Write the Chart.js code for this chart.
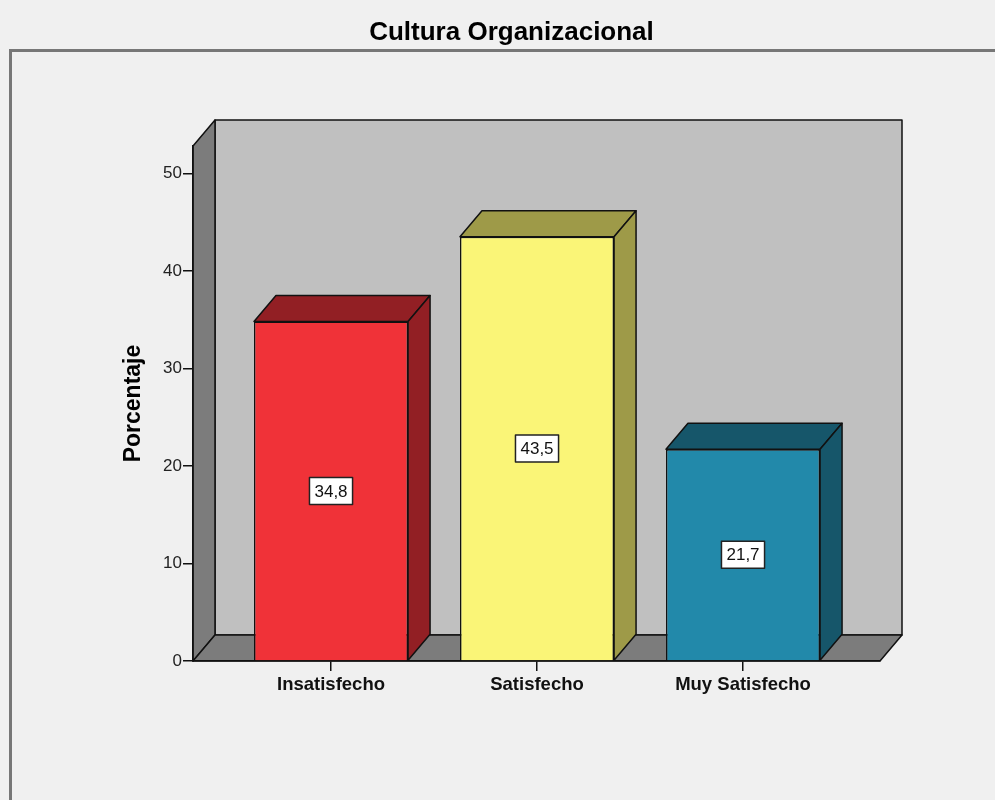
<!DOCTYPE html>
<html>
<head>
<meta charset="utf-8">
<title>Cultura Organizacional</title>
<script src="https://cdn.jsdelivr.net/npm/chart.js@4.4.1/dist/chart.umd.min.js"></script>
<style>
  html, body { margin: 0; padding: 0; background: #f0f0f0; }
  canvas { display: block; }
</style>
</head>
<body>
<canvas id="myChart" width="995" height="800"></canvas>
<script>
const categorias = ['Insatisfecho', 'Satisfecho', 'Muy Satisfecho'];
const porcentajes = [34.8, 43.5, 21.7];
const yTicks = [0, 10, 20, 30, 40, 50];

const frontColors = ['#f03238', '#faf577', '#2289aa'];
const sideColors = ['#921f24', '#9e9a48', '#16566a'];

const FONT = "'Liberation Sans', Arial, sans-serif";
// depth of the 3D boxes, in pixels
const DX = 22;
const DY = 26;

function poly(ctx, pts, fill) {
    ctx.beginPath();
    ctx.moveTo(pts[0][0], pts[0][1]);
    for (let i = 1; i < pts.length; i++) ctx.lineTo(pts[i][0], pts[i][1]);
    ctx.closePath();
    ctx.fillStyle = fill;
    ctx.fill();
    ctx.stroke();
}

// background, frame and the back/left/floor walls
const walls = {
    id: 'walls',
    beforeDraw(chart) {
        const ctx = chart.ctx;
        const a = chart.chartArea;
        ctx.save();
        ctx.fillStyle = '#f0f0f0';
        ctx.fillRect(0, 0, chart.width, chart.height);

        ctx.strokeStyle = '#777';
        ctx.lineWidth = 3;
        ctx.beginPath();
        ctx.moveTo(10.5, chart.height);
        ctx.lineTo(10.5, 50.5);
        ctx.lineTo(chart.width, 50.5);
        ctx.stroke();

        ctx.strokeStyle = '#111';
        ctx.lineWidth = 1.5;
        ctx.lineJoin = 'round';
        poly(ctx, [[a.left + DX, a.top - DY], [a.right + DX, a.top - DY],
                   [a.right + DX, a.bottom - DY], [a.left + DX, a.bottom - DY]], '#c0c0c0');
        poly(ctx, [[a.left, a.top], [a.left + DX, a.top - DY],
                   [a.left + DX, a.bottom - DY], [a.left, a.bottom]], '#7c7c7c');
        poly(ctx, [[a.left, a.bottom], [a.left + DX, a.bottom - DY],
                   [a.right + DX, a.bottom - DY], [a.right, a.bottom]], '#7c7c7c');
        ctx.restore();
    }
};

// top and side faces of each bar plus the value boxes
const barFaces = {
    id: 'barFaces',
    afterDatasetsDraw(chart) {
        const ctx = chart.ctx;
        const meta = chart.getDatasetMeta(0);
        ctx.save();
        ctx.strokeStyle = '#111';
        ctx.lineWidth = 1.5;
        ctx.lineJoin = 'round';
        meta.data.forEach((bar, i) => {
            const p = bar.getProps(['x', 'y', 'base', 'width'], true);
            const x0 = p.x - p.width / 2;
            const x1 = p.x + p.width / 2;
            poly(ctx, [[x0, p.y], [x0 + DX, p.y - DY], [x1 + DX, p.y - DY], [x1, p.y]], sideColors[i]);
            poly(ctx, [[x1, p.y], [x1 + DX, p.y - DY], [x1 + DX, p.base - DY], [x1, p.base]], sideColors[i]);
        });
        meta.data.forEach((bar, i) => {
            const p = bar.getProps(['x', 'y', 'base'], true);
            const txt = porcentajes[i].toFixed(1).replace('.', ',');
            const cy = (p.y + p.base) / 2;
            ctx.font = '17px ' + FONT;
            const w = ctx.measureText(txt).width + 10;
            const h = 27;
            ctx.fillStyle = '#fff';
            ctx.fillRect(p.x - w / 2, cy - h / 2, w, h);
            ctx.strokeStyle = '#222';
            ctx.strokeRect(p.x - w / 2, cy - h / 2, w, h);
            ctx.fillStyle = '#111';
            ctx.textAlign = 'center';
            ctx.textBaseline = 'middle';
            ctx.fillText(txt, p.x, cy + 1);
        });
        ctx.restore();
    }
};

new Chart('myChart', {
    type: 'bar',
    data: {
        datasets: [{
            data: porcentajes.map((v, i) => ({ x: i, y: v })),
            xAxisID: 'x',
            yAxisID: 'y',
            backgroundColor: frontColors,
            borderColor: '#111',
            borderWidth: 1.5,
            barPercentage: 0.748,
            categoryPercentage: 1
        }]
    },
    options: {
        responsive: false,
        animation: false,
        devicePixelRatio: 1,
        layout: { padding: { left: 28, top: 0, right: 0, bottom: 0 } },
        plugins: {
            legend: { display: false },
            tooltip: { enabled: false },
            title: {
                display: true,
                text: 'Cultura Organizacional',
                color: '#000',
                font: { family: FONT, size: 26, weight: 'bold' },
                padding: { top: 17, bottom: 97.8 }
            }
        },
        scales: {
            x: {
                type: 'linear',
                offset: false,
                min: -0.67,
                max: 2.665,
                afterBuildTicks: s => { s.ticks = categorias.map((c, i) => ({ value: i })); },
                afterFit: s => { s.height = 139; },
                ticks: {
                    callback: v => categorias[v],
                    autoSkip: false,
                    maxRotation: 0,
                    padding: 3,
                    color: '#111',
                    font: { family: FONT, size: 18.5, weight: 'bold' }
                },
                grid: { offset: false, drawOnChartArea: false, tickLength: 10, color: '#111', lineWidth: 1.5 },
                border: { color: '#111', width: 1.5 }
            },
            y: {
                min: 0,
                max: 52.8,
                afterBuildTicks: s => { s.ticks = yTicks.map(v => ({ value: v })); },
                afterFit: s => { s.width = 165; },
                ticks: {
                    padding: 1,
                    color: '#222',
                    font: { family: FONT, size: 17 }
                },
                grid: { drawOnChartArea: false, tickLength: 10, color: '#111', lineWidth: 1.5 },
                border: { color: '#111', width: 1.5 },
                title: {
                    display: true,
                    text: 'Porcentaje',
                    color: '#000',
                    font: { family: FONT, size: 23, weight: 'bold' },
                    padding: { top: 92, bottom: 0 }
                }
            },
            yR: {
                position: 'right',
                grid: { display: false },
                ticks: { display: false },
                border: { display: false },
                afterFit: s => { s.width = 115; }
            }
        }
    },
    plugins: [walls, barFaces]
});
</script>
</body>
</html>
